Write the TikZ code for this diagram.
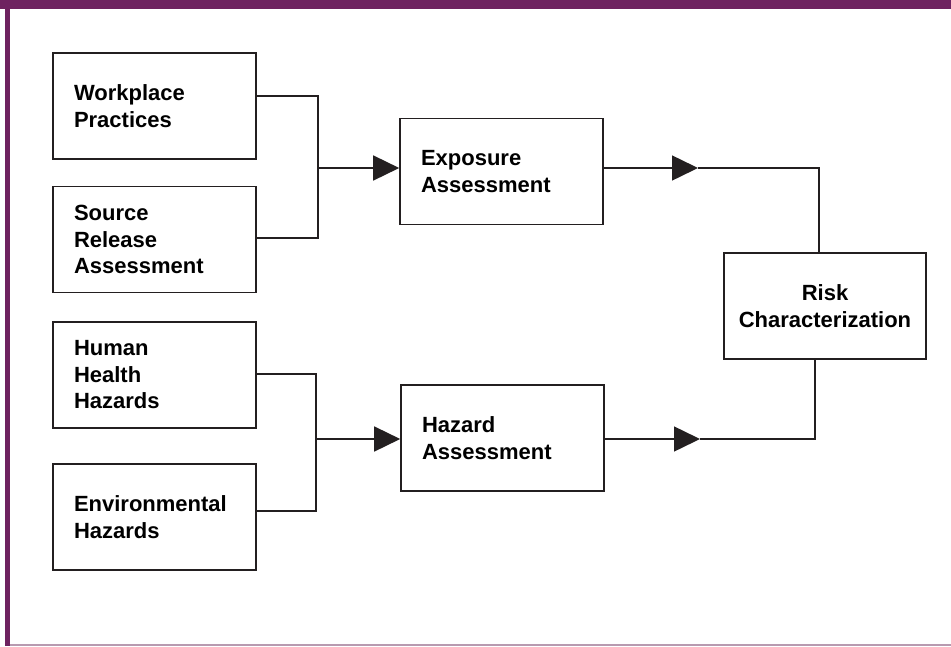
\documentclass[tikz,border=0pt]{standalone}
\usepackage{fontspec}
\setmainfont{Liberation Sans}
\usepackage{xcolor}
\usetikzlibrary{arrows.meta,positioning,calc}
\definecolor{plum}{RGB}{110,34,96}
\definecolor{plumlight}{RGB}{184,154,176}
\definecolor{ink}{RGB}{35,31,32}

\begin{document}
\begin{tikzpicture}[
  x=1pt, y=-1pt,
  font=\fontsize{22}{26.5}\selectfont\bfseries,
  box/.style={draw=ink, line width=1.6pt, minimum width=203pt, minimum height=106pt, inner xsep=21pt, text width=161pt, align=left},
  rbox/.style={draw=ink, line width=1.6pt, minimum width=202pt, minimum height=106pt, align=center},
  wire/.style={draw=ink, line width=1.5pt},
  >={Triangle[length=26pt, width=25pt]},
]
\useasboundingbox (0,0) rectangle (951,646);
\fill[plum] (0,0) rectangle (951,9);
\fill[plum] (5,0) rectangle (10,646);
\draw[plumlight, line width=1.5pt] (10,645) -- (951,645);

\node[box] (wp) at (154.5,106) {Workplace\\ Practices};
\node[box] (src) at (154.5,239.5) {Source\\ Release\\ Assessment};
\node[box] (hh) at (154.5,375) {Human\\ Health\\ Hazards};
\node[box] (env) at (154.5,517) {Environmental\\ Hazards};

\node[box] (exp) at (501.5,171.5) {Exposure\\ Assessment};
\node[box] (haz) at (502.5,438) {Hazard\\ Assessment};
\node[rbox] (risk) at (825,306) {Risk\\ Characterization};

\coordinate (j1) at (318,168);
\coordinate (j2) at (316,439);
\draw[wire] ([yshift=10pt]wp.east) -| (j1) |- ([yshift=1.5pt]src.east);
\draw[wire, ->] (j1) -- (exp.west |- j1);
\draw[wire] ([yshift=1pt]hh.east) -| (j2) |- ([yshift=6pt]env.east);
\draw[wire, ->] (j2) -- (haz.west |- j2);

\coordinate (m1) at (698,168);
\coordinate (m2) at (700,439);
\draw[wire, ->] (exp.east |- m1) -- (m1);
\draw[wire] (m1) -| ([xshift=-6pt]risk.north);
\draw[wire, ->] (haz.east |- m2) -- (m2);
\draw[wire] (m2) -| ([xshift=-10pt]risk.south);
\end{tikzpicture}
\end{document}
